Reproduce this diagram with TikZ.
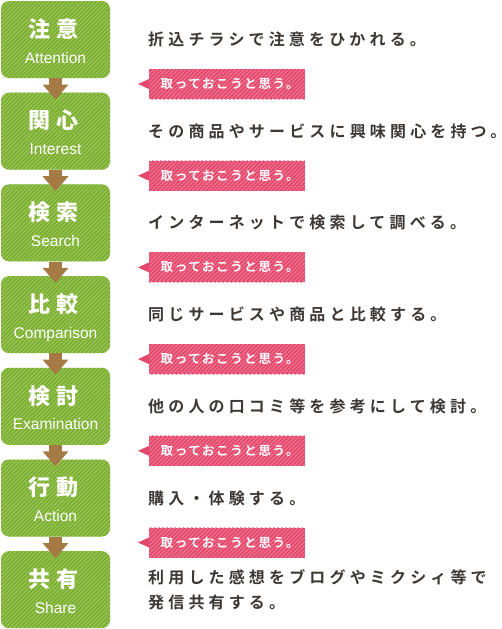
\documentclass[tikz,border=0pt]{standalone}
\usepackage{fontspec}
\setmainfont{Liberation Sans}
\newfontfamily\jpfont{Noto Sans CJK JP Black}
\newfontfamily\jptext[LetterSpace=26]{Noto Sans CJK JP Bold}
\newfontfamily\jptag[LetterSpace=13]{Noto Sans CJK JP Bold}
\usetikzlibrary{arrows.meta,patterns.meta}

\definecolor{boxgreen}{HTML}{7AAF2E}
\definecolor{boxstripe}{HTML}{A2C866}
\definecolor{tagpink}{HTML}{E5486D}
\definecolor{tagstripe}{HTML}{EF7B95}
\definecolor{arrowbrown}{HTML}{A57A45}
\definecolor{textdark}{HTML}{3E3834}

\tikzset{
  stepbox/.style={rounded corners=8pt, minimum width=109pt, minimum height=77pt, inner sep=0pt,
    preaction={fill=boxgreen}, pattern={Lines[angle=45,distance=2.9pt,line width=0.9pt]}, pattern color=boxstripe},
  steptitle/.style={anchor=base, inner sep=0pt, text=white, font=\jpfont\fontsize{22}{22}\selectfont},
  stepsub/.style={anchor=base, inner sep=0pt, text=white, font=\fontsize{15.5}{15.5}\selectfont},
  desc/.style={anchor=west, inner sep=0pt, text=textdark, align=left, font=\jptext\fontsize{16}{25}\selectfont},
  tagfill/.style={preaction={fill=tagpink}, pattern={Lines[angle=45,distance=2.9pt,line width=0.9pt]}, pattern color=tagstripe},
  notetag/.style={tagfill, anchor=west, minimum height=30pt, text width=133pt, inner xsep=11.5pt, inner ysep=0pt,
    align=left, text=white, font=\jptag\fontsize{12.5}{12.5}\selectfont},
  steparrow/.style={arrowbrown, line width=13pt, -{Triangle[width=25pt,length=15pt]}},
}

\begin{document}
\begin{tikzpicture}[x=1pt, y=-1pt]
        \useasboundingbox (0,0) rectangle (502,629);

        % steps
        \node[stepbox] at (55.5,39.5) (attention) {};
        \node[stepbox] at (55.5,131.2) (interest) {};
        \node[stepbox] at (55.5,222.9) (search) {};
        \node[stepbox] at (55.5,314.6) (comparison) {};
        \node[stepbox] at (55.5,406.3) (examination) {};
        \node[stepbox] at (55.5,498.0) (action) {};
        \node[stepbox] at (55.5,589.7) (share) {};

        \node[steptitle] at (53.5,37.2) (title1) {注\hspace{6pt}意};
        \node[steptitle] at (53.5,128.9) (title2) {関\hspace{6pt}心};
        \node[steptitle] at (53.5,220.6) (title3) {検\hspace{6pt}索};
        \node[steptitle] at (53.5,312.3) (title4) {比\hspace{6pt}較};
        \node[steptitle] at (53.5,404.0) (title5) {検\hspace{6pt}討};
        \node[steptitle] at (53.5,495.7) (title6) {行\hspace{6pt}動};
        \node[steptitle] at (53.5,587.4) (title7) {共\hspace{6pt}有};

        \node[stepsub] at (55.5,63.0) (sub1) {Attention};
        \node[stepsub] at (55.5,154.7) (sub2) {Interest};
        \node[stepsub] at (55.5,246.4) (sub3) {Search};
        \node[stepsub] at (55.5,338.1) (sub4) {Comparison};
        \node[stepsub] at (55.5,429.8) (sub5) {Examination};
        \node[stepsub] at (55.5,521.5) (sub6) {Action};
        \node[stepsub] at (55.5,613.2) (sub7) {Share};

        \draw[steparrow] (attention.south) -- ([yshift=-7pt]interest.north);
        \draw[steparrow] (interest.south) -- ([yshift=-7pt]search.north);
        \draw[steparrow] (search.south) -- ([yshift=-7pt]comparison.north);
        \draw[steparrow] (comparison.south) -- ([yshift=-7pt]examination.north);
        \draw[steparrow] (examination.south) -- ([yshift=-7pt]action.north);
        \draw[steparrow] (action.south) -- ([yshift=-7pt]share.north);

        % descriptions
        \node[desc] at (148,39.5) (desc1) {折込チラシで注意をひかれる。};
        \node[desc] at (148,131.2) (desc2) {その商品やサービスに興味関心を持つ。};
        \node[desc] at (148,222.9) (desc3) {インターネットで検索して調べる。};
        \node[desc] at (148,314.6) (desc4) {同じサービスや商品と比較する。};
        \node[desc] at (148,406.3) (desc5) {他の人の口コミ等を参考にして検討。};
        \node[desc] at (148,498.0) (desc6) {購入・体験する。};
        \node[desc] at (148,589.7) (desc7) {利用した感想をブログやミクシィ等で\\発信共有する。};

        % tags
        \node[notetag] at (149,84.0) (tag1) {取っておこうと思う。};
        \node[notetag] at (149,175.7) (tag2) {取っておこうと思う。};
        \node[notetag] at (149,267.4) (tag3) {取っておこうと思う。};
        \node[notetag] at (149,359.1) (tag4) {取っておこうと思う。};
        \node[notetag] at (149,450.8) (tag5) {取っておこうと思う。};
        \node[notetag] at (149,542.5) (tag6) {取っておこうと思う。};

        \fill[tagpink] (tag1.west) ++(0,-5) -- ++(-11,5) -- ++(11,5) -- cycle;
        \fill[tagpink] (tag2.west) ++(0,-5) -- ++(-11,5) -- ++(11,5) -- cycle;
        \fill[tagpink] (tag3.west) ++(0,-5) -- ++(-11,5) -- ++(11,5) -- cycle;
        \fill[tagpink] (tag4.west) ++(0,-5) -- ++(-11,5) -- ++(11,5) -- cycle;
        \fill[tagpink] (tag5.west) ++(0,-5) -- ++(-11,5) -- ++(11,5) -- cycle;
        \fill[tagpink] (tag6.west) ++(0,-5) -- ++(-11,5) -- ++(11,5) -- cycle;

    \end{tikzpicture}
\end{document}
